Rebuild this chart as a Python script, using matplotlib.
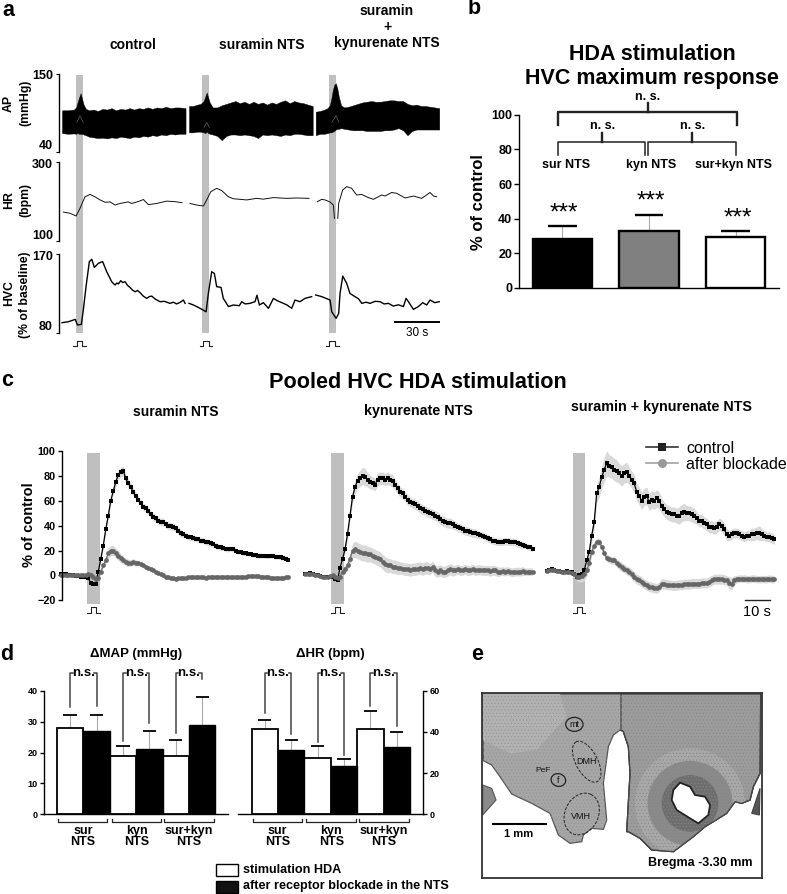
import numpy as np
import matplotlib
matplotlib.use("Agg")
import matplotlib.pyplot as plt
from matplotlib.lines import Line2D
from matplotlib.patches import Ellipse, Rectangle

W, H = 787, 894

# ---- panel a, raw traces (x in s)
ap_t = [
    [2.2, 6, 10, 11.5, 12.5, 13.5, 14.5, 15.5, 16.5, 18,
     20, 23, 26, 29, 32, 35, 38, 41, 44, 47,
     50, 53, 56, 59, 62, 65, 68, 71, 74, 77, 80, 84],
    [86.3, 89, 92, 94, 96, 97, 98, 99, 100, 102,
     105, 108, 111, 114, 117, 120, 123, 126, 129, 132,
     135, 138, 141, 144, 147, 150, 153, 156, 159, 162, 165, 168.2],
    [170.2, 173, 176, 178, 179.5, 180.5, 181.5, 182.5, 183.5, 184.5,
     185.5, 187, 189, 192, 195, 198, 201, 204, 207, 210,
     213, 216, 219, 222, 225, 228, 231, 234, 237, 240, 243, 246, 249, 252],
]
ap_high = [
    [99, 99, 100, 103, 110, 117, 123, 115, 107, 101,
     99, 100, 98, 101, 100, 102, 99, 101, 100, 102,
     100, 102, 101, 103, 101, 103, 102, 104, 102, 103, 103, 102],
    [105, 105, 107, 108, 112, 118, 124, 117, 110, 103,
     103, 106, 108, 110, 112, 109, 111, 108, 111, 108,
     110, 107, 110, 108, 111, 113, 109, 112, 110, 109, 107, 105],
    [97, 98, 100, 102, 106, 115, 127, 135, 137, 130,
     118, 106, 103, 104, 106, 108, 110, 111, 112, 111,
     111, 112, 113, 113, 112, 112, 108, 106, 107, 105, 105, 104, 103, 102],
]
ap_low = [
    [67, 66, 66.5, 66, 67, 66, 66, 66, 65, 64,
     62, 61, 60, 60.5, 59.5, 61, 60, 62, 61, 60,
     62, 61, 63, 62, 64, 63, 65, 64, 66, 65, 66, 66],
    [68, 68, 69, 69, 68, 67, 69, 67, 66, 65,
     63, 57, 63, 65, 65, 64, 65, 64, 63, 60,
     65, 64, 65, 64, 63, 65, 64, 66, 66, 65, 64, 64],
    [64, 66, 66, 67, 68, 68, 69, 70, 72, 73,
     73, 74, 73, 72, 71, 71, 71, 70, 70, 70,
     70, 71, 71, 72, 74, 71, 64, 70, 72, 72, 72, 72, 72, 72],
]
ap_arc_t = [[12, 14.1, 16.3], [96.3, 98, 99.8], [180.8, 183.7, 185.6]]
ap_arc_v = [[82, 91.5, 82], [75, 82, 75], [82, 91.5, 82]]

hr_t = [3.1, 7.5, 11.5, 14.1, 17.4, 20.8, 24, 27.4, 30.7, 34, 37.3, 40.6, 46.1, 48.3,
        52.8, 56.1, 59.4, 64.9, 71.5, 77, 81.7, np.nan,
        87, 91.4, 95.8, 98, 100.7, 104.6, 107.9, 112.4, 115.7, 124.5, 131, 135.5,
        142.2, 151, 157.6, 165.8, np.nan,
        171.3, 174.2, 176.4, 179.7, 181.9, 182.6, np.nan,
        184.8, 185.4, 188, 190.7, 194, 197.3, 200.7, 205, 208.4, 213.9, 216.1, 220.5,
        223.8, 229.4, 234.9, 240.4, 245.9, 248.1, 250.3]
hr_v = [173, 170, 163, 182.5, 212, 218, 212, 204, 198, 199, 191, 195, 199, 195,
        200, 205, 192, 195, 201, 199.6, 197, np.nan,
        195, 191, 188.5, 204, 225, 233.6, 228, 212, 207, 204, 208, 206,
        210, 208, 209, 208, np.nan,
        199.6, 205.5, 204, 198.7, 191, 157, np.nan,
        157, 195, 229, 238, 233.6, 216.6, 218, 210, 205.5, 216.6, 214, 223,
        221, 209, 214, 208, 223, 214, 212]

hvc_t = [2.2, 6.4, 11, 12.4, 15, 16.3, 18.1, 20.3, 21.9, 23.6, 26.3, 29.1, 31.8, 35.1,
         36.2, 37.3, 38.5, 39.5, 41.1, 42.4, 43.9, 45.5, 47.2, 48.8, 50.6, 52.2, 53.9,
         56, 58.3, 60, 61.6, 64, 67.1, 70, 73.7, 76, 78.1, 80.5, 82.6, 83.7, np.nan,
         86.3, 89.2, 93.6, 97.6, 99.1, 101.3, 103.1, 104.6, 107.5, 109, 112.4, 115.7,
         119.6, 121.2, 123.5, 126.7, 130, 131.3, 132.9, 135.5, 138.9, 142.2, 145, 147.7,
         151, 154.3, 156.5, 159.8, 163.1, 167.5, np.nan,
         170.2, 174.2, 179.7, 180.8, 183.7, 185.4, 186.3, 188.1, 190.7, 192.9, 196.2,
         198.5, 200.7, 203.5, 206.2, 209.5, 212.8, 215.5, 218.3, 221.6, 225, 228.3, 230,
         231.6, 234.9, 238.2, 241, 243.7, 245.9, 249, 252]
hvc_v = [91.5, 92.6, 95.3, 88.8, 89.6, 106, 132.9, 161.6, 164.3, 155, 159.7, 161.6, 150, 138.6,
         136.5, 134.8, 137, 136, 139.7, 137.5, 138.6, 134.5, 132, 129, 127, 128.5, 126,
         122, 119.4, 121.5, 122, 118.5, 115.6, 116, 113.7, 115, 113, 115, 117.5, 113.7, np.nan,
         113.7, 111.8, 108, 104, 125, 150, 148, 132.9, 132, 119.4, 110, 111.8,
         111, 115.6, 113, 113.7, 115.6, 123, 111.8, 114.5, 108, 119.4, 116.5, 114.5,
         112, 108, 117.5, 115.6, 119.4, 121.4, np.nan,
         123.3, 121.4, 117.5, 104, 96.5, 102, 125, 145, 136.7, 125, 121.4,
         119, 113.7, 115, 113.7, 116, 115.6, 113, 113.7, 110.6, 112, 110, 119.4,
         115.6, 106.8, 110, 114.5, 111.8, 117.5, 114.5, 115.6]

# ---- panel b
b_names = ["sur NTS", "kyn NTS", "sur+kyn NTS"]
b_values = [28.5, 33, 29.5]
b_tops = [35.5, 42, 33]
b_colors = ["black", "#808080", "white"]

# ---- panel c, pooled traces, one sample per s
c1_ctrl = [1, 1, 1, 0, 0, 0, -0.5, -0.5, -1, -1,
           -1, -2, -6, -7, -7, 3, 13, 24, 37, 48,
           60, 68, 75, 81, 83, 84, 78, 74, 71, 67,
           64, 61, 58, 55, 54, 52, 49, 47, 46, 44,
           43, 43, 41, 40, 39.5, 39, 38, 36, 34, 33,
           32, 31, 30.5, 30, 29.5, 29, 28, 28, 27, 26.5,
           26, 25, 24, 23, 22.5, 22, 21, 21, 21.5, 21,
           20, 19, 18.5, 18, 18, 17.5, 17, 16.5, 16.5, 16,
           16, 16, 15.5, 15.5, 16, 15.5, 15, 15, 14.5, 14,
           13.5, 12.5]
c1_ctrl_sem = [0.5, 0.5, 0.5, 0.5, 0.5, 0.5, 0.5, 0.5, 0.5, 0.5,
               0.5, 0.5, 1, 1, 1.5, 2, 2, 2.5, 3, 3,
               3, 3.5, 4, 4, 4, 4, 3.5, 3.5, 3.5, 3.5,
               3, 3, 3, 3, 3, 3, 3, 3, 3, 3,
               3, 3, 3, 3, 3, 3, 3, 3, 3, 2.5,
               2.5, 2.5, 2.5, 2.5, 2.5, 2.5, 2.5, 2.5, 2.5, 2.5,
               2.5, 2.5, 2.5, 2.5, 2.5, 2, 2, 2, 2, 2,
               2, 2, 2, 2, 2, 2, 2, 2, 2, 2,
               2, 2, 2, 2, 2, 2, 2, 2, 2, 2,
               2, 2]
c1_after = [0, 0, 0, 0, 0, 0, 0, 0, 0, 0,
            0, 1, 0, -1, -3, -2, 3, 8, 12, 18,
            20, 20, 18, 16, 14, 12, 11, 10, 10, 11,
            10, 10, 9, 8, 7, 6, 5, 4, 3, 2,
            1, 0, -1, -1.5, -2, -2, -2.5, -2, -2, -2,
            -2, -1.5, -1.5, -1.5, -1.5, -1.5, -1.5, -1.5, -2, -1.5,
            -1, -1, -1, -1.5, -1, -1, -1, -1.5, -1.5, -1,
            -1, -1, -1, -1, -1, -0.5, -0.5, -0.5, -0.5, -0.5,
            -1, -1, -1.5, -1.5, -2, -2, -2, -2, -2, -2,
            -1.5, -1]
c1_after_sem = [0.5, 0.5, 0.5, 0.5, 0.5, 0.5, 0.5, 0.5, 0.5, 0.5,
                0.5, 0.5, 0.5, 1, 1, 1.5, 2, 2, 3, 4,
                4, 4, 4, 4, 3.5, 3, 3, 3, 2.5, 2.5,
                2.5, 2, 2, 2, 1.5, 1.5, 1.5, 1, 1, 1,
                1, 1, 1, 1, 1, 1, 1, 1, 1, 1,
                1, 1, 1, 1, 1, 1, 1, 1, 1, 1,
                1, 1, 1, 1, 1, 1, 1, 1, 1, 1,
                1, 1, 1, 1, 1, 1, 1, 1, 1, 1,
                1, 1, 1, 1, 1, 1, 1, 1, 1, 1,
                1, 1]

c2_ctrl = [1, 1.5, 2, 1, 0.5, 0, -0.5, -1, -1, -1,
           -1, -1, -3, -4, 6, 13, 21, 33, 48, 63,
           71, 76, 78, 80, 79, 77, 75, 74, 73, 77,
           78, 78, 77, 78, 77, 76, 73, 70, 67, 66,
           63, 61, 59, 58, 57, 56, 54, 53, 52, 51,
           50, 49, 48, 47, 45, 44, 43, 42, 42, 41,
           40, 39, 38, 37, 36, 35.5, 35, 34, 34, 33,
           32.5, 32, 31, 30, 29, 28, 27.5, 27, 27, 27,
           27.5, 27.5, 27, 27, 26.5, 26, 25, 24.5, 24, 23,
           22.5, 21.5]
c2_ctrl_sem = [0.5, 0.5, 0.5, 0.5, 0.5, 0.5, 0.5, 0.5, 0.5, 0.5,
               0.5, 0.5, 1, 1, 2, 2.5, 3, 3.5, 4, 5,
               6, 6, 6.5, 7, 7, 6, 5.5, 5, 5, 5,
               5, 5, 5, 5, 5, 5, 4.5, 4.5, 4, 4,
               4, 4, 4, 4, 4, 4, 4, 4, 4, 4,
               4, 4, 4, 4, 4, 4, 4, 4, 4, 4,
               3.5, 3.5, 3.5, 3.5, 3.5, 3.5, 3.5, 3.5, 3.5, 3.5,
               3, 3, 3, 3, 3, 3, 3, 3, 3, 3,
               3, 3, 3, 3, 3, 3, 3, 3, 2.5, 2.5,
               2.5, 2.5]
c2_after = [1, 1, 1.5, 1, 0, 0, -0.5, -1, -1, -1,
            -0.5, 0, -1, -2, -1, 3, 5, 8, 13, 20,
            21, 20, 19, 18, 18, 17, 17, 16, 15, 14,
            13, 11, 9, 8, 8, 7, 7, 6, 6, 5.5,
            5, 5, 4.5, 5, 5, 5.5, 6, 5, 6, 6,
            5, 7, 4, 3, 4, 3, 3, 4, 5, 4,
            4, 5, 4, 4, 5, 4, 4, 5, 4, 4.5,
            4.5, 4, 4, 4, 3.5, 4, 4, 3, 3, 3.5,
            3, 3.5, 3, 2.5, 3, 3, 3, 3.5, 3, 3,
            3, 3]
c2_after_sem = [0.5, 0.5, 0.5, 0.5, 0.5, 0.5, 0.5, 0.5, 0.5, 0.5,
                0.5, 0.5, 1, 1, 2, 2.5, 3, 4, 5, 6,
                6.5, 6.5, 6.5, 6.5, 6.5, 6.5, 6, 6, 6, 6,
                6, 6, 6, 6, 5.5, 5.5, 5.5, 5.5, 5, 5,
                5, 5, 5, 5, 5, 5, 5, 5, 5, 5,
                4.5, 4.5, 4.5, 4.5, 4.5, 4.5, 4.5, 4.5, 4.5, 4.5,
                4, 4, 4, 4, 4, 4, 4, 4, 4, 4,
                4, 4, 4, 4, 4, 4, 4, 4, 3.5, 3.5,
                3.5, 3.5, 3.5, 3.5, 3.5, 3.5, 3.5, 3.5, 3, 3,
                3, 3]

c3_ctrl = [3.5, 4, 5, 4.5, 3.5, 3.5, 3, 3, 3.5, 3,
           2.5, 1, -1, 0, 1, 4, 12, 19, 32, 43,
           66, 71, 79, 85, 90, 88, 87, 85, 84, 82,
           80, 82, 83, 80, 77, 74, 67, 64, 60, 63,
           64, 59, 61, 60, 62, 60, 56, 53, 51, 50,
           49, 49, 48, 48, 50, 51, 50, 50, 49, 48,
           46, 44, 44, 42, 41, 39, 39, 38, 39, 41,
           40, 37, 33, 32, 33, 34, 34, 33, 32, 31,
           32, 32, 33, 33, 34, 34, 33, 32, 31, 31,
           30, 29]
c3_ctrl_sem = [1, 1, 1, 1, 1, 1, 1, 1, 1, 1,
               1, 1, 1, 1, 2, 2.5, 3, 4, 5, 6,
               7, 8, 9, 10, 10, 9, 9, 9, 9, 8,
               8, 8, 8, 7, 7, 7, 7, 7, 7, 7,
               7, 7, 7, 7, 7, 7, 6, 6, 6, 6,
               6, 6, 6, 7, 7, 7, 6, 6, 6, 6,
               5, 5, 5, 5, 5, 5, 5, 5, 5, 5,
               5, 5, 5, 4, 4, 4, 4, 4, 4, 4,
               4, 4, 5, 5, 5, 6, 5, 4, 4, 4,
               4, 4]
c3_after = [3.5, 4, 4.5, 4, 3.5, 3.5, 3, 3, 2.5, 2.5,
            2, 1, -1.5, -1, -0.5, 1, 4, 10, 19, 24,
            27, 27, 23, 18, 14, 13, 12, 12, 10, 8,
            7, 5.5, 4, 3, 1, -1, -3, -4, -5, -7,
            -8, -9, -9.5, -10, -10.5, -9, -6.5, -7, -7.5, -7.5,
            -8, -8, -8, -7.5, -7.5, -7, -7, -7, -6.5, -6.5,
            -6.5, -6.5, -6, -6, -6, -5, -4, -3, -3, -3,
            -3, -3.5, -4, -6, -6.5, -4, -3, -2.5, -2.5, -2.5,
            -3, -3, -2.5, -2.5, -3, -3, -3, -3, -3, -2.5,
            -3, -3]
c3_after_sem = [1, 1, 1, 1, 1, 1, 1, 1, 1, 1,
                1, 1.5, 3, 4, 5, 5, 5, 4, 3, 3,
                3, 3, 3, 3, 3, 3, 3, 3, 3, 3.5,
                3.5, 3.5, 3.5, 3.5, 4, 4, 4, 4, 4, 4,
                4, 4, 4, 4, 4, 4, 4, 4, 4, 4,
                4, 4, 4, 4, 4, 4, 4, 4, 4, 4,
                4, 4, 4, 4, 4, 4, 4, 4, 4, 4,
                4, 4, 4, 5, 5, 4, 3, 3, 3, 3,
                3, 3, 3, 3, 3, 3, 3, 3, 3, 3,
                3, 3]

# ---- panel d
d_groups = ["sur\nNTS", "kyn\nNTS", "sur+kyn\nNTS"]
map_values = [28, 27, 19, 21, 19, 29]
map_tops = [32, 32, 22, 27, 24, 38]
map_ns_bottom = [34.6, 35, 23.7, 29.4, 26.4, 43.7]
hr_values = [41.4, 31.3, 27.2, 23.5, 41.4, 32.6]
hr_tops = [46, 36, 33, 27, 50, 40]
hr_ns_bottom = [49, 39, 34.9, 28.9, 52.7, 43]

# ---- panel e, outline of the section, picture units
tissue_x = [68, 902, 900, 880, 870, 845, 825, 800, 760, 735, 700, 640, 575, 540, 505,
            500, 510, 505, 490, 480, 460, 445, 430, 440, 430, 395, 370, 365, 330,
            295, 270, 215, 155, 120, 95, 70]
tissue_y = [162, 162, 400, 440, 480, 490, 485, 520, 545, 560, 590, 635, 630, 595, 575,
            575, 400, 320, 275, 270, 285, 320, 430, 540, 568, 565, 585, 605, 610,
            585, 520, 490, 462, 410, 375, 362]
right_x = [483, 902, 900, 880, 870, 845, 825, 800, 760, 735, 700, 640, 575, 540, 505,
           500, 510, 505, 490, 483]
right_y = [162, 162, 400, 440, 480, 490, 485, 520, 545, 560, 590, 635, 630, 595, 575,
           575, 400, 320, 275, 270]
light_x = [68, 300, 320, 230, 150, 68]
light_y = [162, 162, 230, 330, 340, 300]
hole_x = [640, 660, 690, 705, 735, 750, 745, 715, 690, 650, 635]
hole_y = [450, 428, 440, 465, 470, 495, 525, 550, 535, 510, 480]
chunk_x = [68, 95, 108, 68]
chunk_y = [435, 445, 480, 525]
chunk2_x = [875, 900, 898]
chunk2_y = [520, 445, 525]

plt.rcParams["font.family"] = ["Liberation Sans", "DejaVu Sans"]
plt.rcParams["axes.linewidth"] = 1.0
plt.rcParams["hatch.linewidth"] = 0.4
BAR_GREY = "#bfbfbf"

fig = plt.figure(figsize=(W / 100, H / 100), dpi=100)


def ax_px(left, top, right, bottom):
    ax = fig.add_axes([left / W, 1 - bottom / H, (right - left) / W, (bottom - top) / H])
    ax.patch.set_alpha(0)
    return ax


def txt(x, y, s, size=9, weight="bold", ha="center", va="center", **kw):
    fig.text(x / W, 1 - y / H, s, fontsize=size, fontweight=weight, ha=ha, va=va, **kw)


def only_left(ax):
    for side in ["top", "right", "bottom"]:
        ax.spines[side].set_visible(False)
    ax.set_xticks([])


def pulse(ax, x0, x1, x2, x3, lo, hi):
    ax.plot([x0, x1, x1, x2, x2, x3], [lo, lo, hi, hi, lo, lo], color="#222222",
            lw=0.8, clip_on=False)


# ---- a
for x, y, s in [(8, 11, "a"), (474, 9, "b"), (7, 380, "c"), (7, 654, "d"), (477, 654, "e")]:
    txt(x, y, s, size=15.5)

txt(133, 45, "control", size=10)
txt(262, 45, "suramin NTS", size=10)
txt(387, 11, "suramin", size=10)
txt(387, 26.5, "+", size=10)
txt(387, 43, "kynurenate NTS", size=10)

a_bg = ax_px(58.7, 75, 440, 333.3)
a_bg.set_xlim(0, 252.5)
a_bg.set_ylim(0, 1)
a_bg.axis("off")
for start in [11.3, 95, 178.8]:
    a_bg.axvspan(start, start + 4.6, color=BAR_GREY, lw=0)

ax_ap = ax_px(58.7, 74, 440, 152.3)
for t, hi, lo in zip(ap_t, ap_high, ap_low):
    ax_ap.fill_between(t, lo, hi, color="black", lw=0.3)
for t, v in zip(ap_arc_t, ap_arc_v):
    ax_ap.plot(t, v, color="#777777", lw=0.4)
ax_ap.set_ylim(40, 150)

ax_hr = ax_px(58.7, 162.3, 440, 240.7)
ax_hr.plot(hr_t, hr_v, color="#111111", lw=0.7)
ax_hr.set_ylim(100, 300)

ax_hvc = ax_px(58.7, 254.3, 440, 332.7)
ax_hvc.plot(hvc_t, hvc_v, color="black", lw=1.0)
ax_hvc.set_ylim(80, 170)
ax_hvc.plot([222.5, 252.5], [92.3, 92.3], color="black", lw=1.4)
for c in [13.8, 97.4, 181.2]:
    pulse(ax_hvc, c - 4.1, c - 1.9, c + 1.9, c + 4.1, 65, 70.8)

for ax, ticks in [(ax_ap, [40, 150]), (ax_hr, [100, 300]), (ax_hvc, [80, 170])]:
    only_left(ax)
    ax.set_xlim(0, 252.5)
    ax.set_yticks(ticks)
    ax.set_yticklabels([])
    ax.tick_params(axis="y", length=2.5, width=0.8)

for x, y, s in [(53, 76, "150"), (53, 146, "40"), (53, 165, "300"), (53, 236, "100"),
                (53, 257, "170"), (53, 327, "80")]:
    txt(x, y, s, size=9, ha="right")
for x, y, s in [(9, 103, "AP"), (25, 103, "(mmHg)"), (9, 200, "HR"), (25, 200, "(bpm)"),
                (9, 293, "HVC"), (25, 295, "(% of baseline)")]:
    txt(x, y, s, size=8.8, rotation=90)
txt(416.7, 333, "30 s", size=8.5, weight="normal")

# ---- b
txt(652, 54.5, "HDA stimulation", size=15.5)
txt(652, 78.5, "HVC maximum response", size=15.5)
ax_b = ax_px(519, 114.7, 779, 288)
b_x = np.arange(len(b_values))
ax_b.bar(b_x, b_values, width=0.685, color=b_colors, edgecolor="black", lw=1.7, zorder=3)
ax_b.vlines(b_x, b_values, b_tops, color="#aaaaaa", lw=0.8)
ax_b.hlines(b_tops, b_x - 0.165, b_x + 0.165, color="black", lw=1.7)
ax_b.set_xlim(-0.5, 2.5)
ax_b.set_ylim(0, 100)
ax_b.set_xticks([])
ax_b.set_yticks(range(0, 101, 20))
for lab in ax_b.get_yticklabels():
    lab.set_fontweight("bold")
ax_b.tick_params(axis="y", labelsize=9, length=3.5, width=1.0, pad=1.5)
ax_b.spines["top"].set_visible(False)
ax_b.spines["right"].set_visible(False)
ax_b.plot([-0.05, -0.05, 2.01, 2.01], [94, 101.3, 101.3, 94], color="#222222", lw=1.7, clip_on=False)
ax_b.plot([0.985, 0.985], [101.3, 107], color="#222222", lw=1.7, clip_on=False)
ax_b.plot([-0.05, -0.05, 0.954, 0.954], [76.7, 84.4, 84.4, 76.7], color="#222222", lw=1.1)
ax_b.plot([0.992, 0.992, 2.0, 2.0], [76.7, 84.4, 84.4, 76.7], color="#222222", lw=1.1)
ax_b.plot([0.458, 0.458], [84.4, 89.6], color="#222222", lw=1.7)
ax_b.plot([1.5, 1.5], [84.4, 89.6], color="#222222", lw=1.7)
for x, y in [(0.985, 110.5), (0.46, 93.5), (1.5, 93.5)]:
    ax_b.text(x, y, "n. s.", fontsize=9, fontweight="bold", ha="center", va="center", clip_on=False)
for x, s in zip([0.04, 1.02, 1.98], b_names):
    ax_b.text(x, 71, s, fontsize=9, fontweight="bold", ha="center", va="center")
for x, y in zip([0.02, 1.02, 2.02], [43, 50, 40]):
    ax_b.text(x, y, "***", fontsize=17.5, ha="center", va="center")
txt(478, 202, "% of control", size=12, rotation=90)

# ---- c
txt(418, 383, "Pooled HVC HDA stimulation", size=15.6)
txt(176, 411.5, "suramin NTS", size=10)
txt(418, 411, "kynurenate NTS", size=10.3)
txt(661, 407.5, "suramin + kynurenate NTS", size=10.3)

c_panels = [
    (62, c1_ctrl, c1_ctrl_sem, c1_after, c1_after_sem),
    (305, c2_ctrl, c2_ctrl_sem, c2_after, c2_after_sem),
    (546.7, c3_ctrl, c3_ctrl_sem, c3_after, c3_after_sem),
]
c_axes = []
for left, ctrl, ctrl_sem, after, after_sem in c_panels:
    ax = ax_px(left, 451, left + 232, 600.3)
    t = np.arange(len(ctrl))
    ctrl = np.array(ctrl)
    after = np.array(after)
    ctrl_sem = np.array(ctrl_sem)
    after_sem = np.array(after_sem)
    ax.fill_between([10.5, 15.5], -23.2, 98.4, color=BAR_GREY, lw=0, clip_on=False)
    ax.fill_between(t, ctrl - ctrl_sem, ctrl + ctrl_sem, color="#d9d9d9", lw=0, clip_on=False)
    ax.fill_between(t, after - after_sem, after + after_sem, color="#d9d9d9", lw=0, clip_on=False)
    ax.plot(t, ctrl, color="black", lw=0.9, marker="s", ms=3.0, mew=0, clip_on=False)
    ax.plot(t, after, color="#666666", lw=0.9, marker="o", ms=3.4, mew=0, clip_on=False)
    pulse(ax, 10.5, 12, 14, 15.5, -30.5, -25.7)
    ax.set_xlim(0, 92.8)
    ax.set_ylim(-20, 100)
    c_axes.append(ax)

ax = c_axes[0]
ax.set_xlim(0.5, 92.8 + 0.5)
only_left(ax)
ax.set_yticks(range(-20, 101, 20))
for lab in ax.get_yticklabels():
    lab.set_fontweight("bold")
ax.tick_params(axis="y", labelsize=7.8, length=3, width=1.0, pad=1.5)
c_axes[1].axis("off")
c_axes[2].axis("off")
c_axes[2].plot([79.3, 89.3], [-19.8, -19.8], color="#222222", lw=1.0, clip_on=False)
txt(757, 612, "10 s", size=10.5, weight="normal")
txt(29, 525, "% of control", size=10.5, rotation=90)

handles = [
    Line2D([], [], color="#222222", lw=1.1, marker="s", ms=6, mew=0, label="control"),
    Line2D([], [], color="#999999", lw=1.1, marker="o", ms=6.5, mew=0, label="after blockade"),
]
fig.legend(handles=handles, loc="upper left", bbox_to_anchor=(646 / W, 1 - 441 / H),
           frameon=False, fontsize=11.5, handlelength=2.0, handletextpad=0.5,
           labelspacing=0.05, borderpad=0, borderaxespad=0)

# ---- d
txt(135.7, 654, "ΔMAP (mmHg)", size=9.5)
txt(330, 654, "ΔHR (bpm)", size=9.5)

d_panels = [
    (43.7, 228.5, 40, range(0, 41, 10), map_values, map_tops, map_ns_bottom, 45.6, "left"),
    (238.3, 423.3, 60, range(0, 61, 20), hr_values, hr_tops, hr_ns_bottom, 68.6, "right"),
]
d_x = np.arange(6)
for left, right, ymax, ticks, values, tops, ns_bottom, ns_top, side in d_panels:
    ax = ax_px(left, 690.7, right, 814.3)
    ax.set_ylim(0, ymax)
    ax.set_xlim(-1, 6)
    ax.bar(d_x[0::2], values[0::2], width=1, color="white", edgecolor="black", lw=1.3, zorder=3)
    ax.bar(d_x[1::2], values[1::2], width=1, color="black", edgecolor="black", lw=1.0, zorder=3)
    ax.vlines(d_x, values, tops, color="#aaaaaa", lw=0.8)
    ax.hlines(tops, d_x - 0.25, d_x + 0.25, color="black", lw=1.3)
    for i in [0, 2, 4]:
        mid = i + 0.5
        ax.plot([i, i, mid - 0.4], [ns_bottom[i], ns_top, ns_top], color="#444444", lw=1.1, clip_on=False)
        ax.plot([mid + 0.4, i + 1, i + 1], [ns_top, ns_top, ns_bottom[i + 1]], color="#444444", lw=1.1, clip_on=False)
        ax.text(mid, ns_top, "n.s.", fontsize=9.5, fontweight="bold", ha="center", va="center", clip_on=False)
    unit = ymax / 40
    for i, lo, hi, s in zip([0, 2, 4], [-0.45, 1.58, 3.57], [1.41, 3.45, 5.44], d_groups):
        ax.plot([lo, lo, hi, hi], [-1.6 * unit, -2.6 * unit, -2.6 * unit, -1.6 * unit],
                color="#222222", lw=0.9, clip_on=False)
        ax.text((lo + hi) / 2, -3.6 * unit, s, fontsize=9, fontweight="bold", ha="center",
                va="top", linespacing=0.88, clip_on=False)
    ax.spines["top"].set_visible(False)
    ax.spines["left" if side == "right" else "right"].set_visible(False)
    ax.set_xticks([])
    ax.yaxis.set_ticks_position(side)
    ax.set_yticks(list(ticks))
    for lab in ax.get_yticklabels():
        lab.set_fontweight("bold")
    ax.tick_params(axis="y", labelsize=6.5, length=3, width=1.0, pad=1.5)

for top, col in [(864, "white"), (880.7, "#111111")]:
    fig.add_artist(Rectangle((216.3 / W, 1 - (top + 12) / H), 21.4 / W, 12 / H, facecolor=col,
                             edgecolor="black", lw=1.0, transform=fig.transFigure))
txt(242.7, 870, "stimulation HDA", size=9.1, ha="left")
txt(242.7, 886, "after receptor blockade in the NTS", size=9.1, ha="left")

# ---- e
ax_e = ax_px(481.7, 692.7, 761.7, 878)
ax_e.set_xlim(65, 905)
ax_e.set_ylim(714, 158)
ax_e.set_xticks([])
ax_e.set_yticks([])
ax_e.patch.set_alpha(1)
for spine in ax_e.spines.values():
    spine.set_linewidth(1.3)
    spine.set_color("#333333")
ax_e.fill(tissue_x, tissue_y, facecolor="#a6a6a6", edgecolor="#555555", lw=0.9)
ax_e.fill(light_x, light_y, facecolor="#b2b2b2", edgecolor="none", lw=0)
ax_e.fill(tissue_x, tissue_y, facecolor="none", edgecolor="#929292", lw=0, hatch=".....")
right_patch = ax_e.fill(right_x, right_y, facecolor="#9c9c9c", edgecolor="#444444", lw=0.9)[0]
for size, col in [(330, "#a8a8a8"), (255, "#8a8a8a"), (170, "#6e6e6e")]:
    ring = Ellipse((690, 490), size, size, facecolor=col, edgecolor="none")
    ax_e.add_patch(ring)
    ring.set_clip_path(right_patch)
ax_e.fill(right_x, right_y, facecolor="none", edgecolor="#868686", lw=0, hatch=".....")
ax_e.plot(right_x[1:], right_y[1:], color="#444444", lw=0.9)
ax_e.fill(chunk_x, chunk_y, facecolor="#8a8a8a", edgecolor="#555555", lw=0.8)
ax_e.fill(chunk2_x, chunk2_y, facecolor="#555555", edgecolor="#444444", lw=0.8)
ax_e.fill(hole_x, hole_y, facecolor="white", edgecolor="#222222", lw=1.3)
ax_e.add_patch(Ellipse((343, 253), 52, 42, fill=False, ec="#222222", lw=0.9))
ax_e.add_patch(Ellipse((295, 420), 44, 38, angle=15, fill=False, ec="#222222", lw=0.9))
ax_e.add_patch(Ellipse((380, 365), 65, 135, angle=-28, fill=False, ec="#222222", lw=0.7, ls=(0, (3, 1.5))))
ax_e.add_patch(Ellipse((365, 522), 100, 130, angle=25, fill=False, ec="#222222", lw=0.7, ls=(0, (3, 1.5))))
for x, y, s, size in [(343, 253, "mt", 6.5), (295, 420, "f", 6.5), (250, 390, "PeF", 6),
                      (380, 365, "DMH", 6.5), (363, 530, "VMH", 6.5)]:
    ax_e.text(x, y, s, fontsize=size, color="#111111", ha="center", va="center")
ax_e.plot([98, 257], [553, 553], color="black", lw=1.5)
ax_e.text(176, 582, "1 mm", fontsize=8, fontweight="bold", ha="center", va="center")
ax_e.text(722, 670, "Bregma -3.30 mm", fontsize=9, fontweight="bold", ha="center", va="center")

fig.savefig("out.png", dpi=100)
